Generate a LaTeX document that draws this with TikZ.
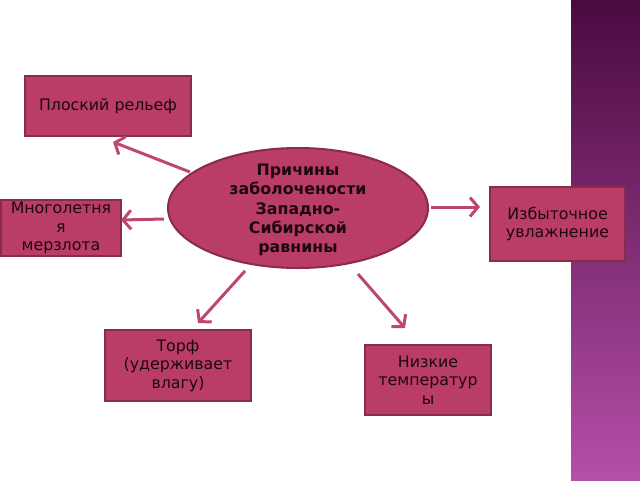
\documentclass[tikz,border=0pt]{standalone}
\usepackage{fontspec}
\setmainfont{DejaVu Sans}
\usetikzlibrary{arrows.meta,shapes.geometric,calc}
\definecolor{boxfill}{HTML}{BA3D65}
\definecolor{boxline}{HTML}{8A2A4C}
\definecolor{arrcol}{HTML}{BF4674}
\definecolor{txt}{HTML}{1E0810}
\definecolor{striptop}{HTML}{4A0A40}
\definecolor{stripbot}{HTML}{B54FA8}
\begin{document}
\begin{tikzpicture}[x=1pt,y=-1pt,
  cbox/.style={draw=boxline,fill=boxfill,line width=2pt,text=txt,align=center,
    font=\fontsize{15.8}{18.5}\selectfont,inner sep=0pt,anchor=north west},
  arr/.style={draw=arrcol,line width=3pt,-{Straight Barb[length=8pt,width=19pt,line width=3pt]}}]
\useasboundingbox (0,0) rectangle (640,480);
\fill[white] (0,0) rectangle (640,480);
\shade[top color=striptop,bottom color=stripbot] (571,0) rectangle (640,480);
\node[cbox,minimum width=166pt,minimum height=60pt] (plo) at (24,75) {Плоский рельеф};
\node[cbox,minimum width=120pt,minimum height=56pt] (mno) at (0,199) {Многолетня\\я\\мерзлота};
\node[cbox,minimum width=135pt,minimum height=74pt] (izb) at (489,186) {Избыточное\\увлажнение};
\node[cbox,minimum width=146pt,minimum height=71pt] (tor) at (104,329) {Торф\\(удерживает\\влагу)};
\node[cbox,minimum width=126pt,minimum height=70pt] (niz) at (364,344) {Низкие\\температур\\ы};
\draw[arr] (190,172) -- ($(plo.south)+(5,5)$);
\node[ellipse,draw=boxline,fill=boxfill,line width=2pt,minimum width=260pt,minimum height=120pt,
  inner sep=0pt] (e) at (298,208) {};
\node[text=txt,align=center,font=\bfseries\fontsize{15.8}{19.3}\selectfont,inner sep=0pt] (et) at (298,210)
  {Причины\\заболочености\\Западно-\\Сибирской\\равнины};
\draw[arr] ($(e.west)+(-3,11)$) -- ($(e.west|-mno.east)+(-46,-8)$);
\draw[arr] ($(e.east)+(2,-1)$) -- ($(e.east-|izb.west)+(-9,-1)$);
\draw[arr] ($(e.south)+(-53,2)$) -- ($(tor.north)+(20,-6)$);
\draw[arr] ($(e.south)+(60,5)$) -- ($(niz.north)+(-23,-16)$);
\end{tikzpicture}
\end{document}
